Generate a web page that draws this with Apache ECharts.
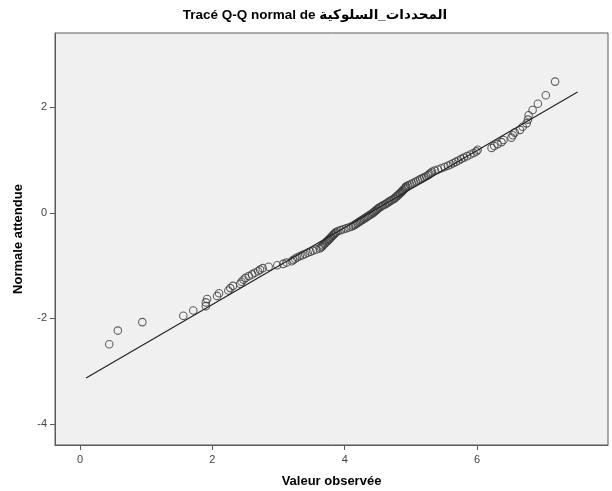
<!DOCTYPE html>
<html>
<head>
<meta charset="utf-8">
<script src="https://cdn.jsdelivr.net/npm/echarts@6/dist/echarts.min.js"></script>
<style>
html,body{margin:0;padding:0;background:#fff;}
#chart{width:612px;height:491px;}
</style>
</head>
<body>
<div id="chart"></div>
<script>
var observed = [
0.44,0.57,0.94,1.56,1.71,1.90,1.90,1.92,2.07,2.10,
2.24,2.27,2.31,2.42,2.44,2.47,2.50,2.55,2.60,2.64,
2.69,2.72,2.76,2.85,2.98,3.07,3.12,3.20,
3.22,3.25,3.28,3.32,3.36,3.40,3.44,3.48,3.52,3.57,3.62,
3.64,3.66,3.67,3.69,3.70,3.72,3.73,3.75,3.76,3.78,3.79,3.80,3.82,3.83,3.84,3.86,3.87,
3.90,3.94,3.98,4.02,4.06,4.10,
4.13,4.15,4.17,4.19,4.21,4.23,4.25,4.27,4.29,4.31,4.33,4.35,4.37,4.39,4.41,4.43,4.44,4.46,4.47,4.49,4.50,4.52,
4.54,4.56,4.58,4.61,4.63,4.65,4.67,4.69,4.71,
4.74,4.75,4.77,4.78,4.80,4.81,4.83,4.84,4.86,4.87,4.88,4.90,4.91,4.92,4.93,
4.96,4.99,5.02,5.05,5.08,5.11,5.14,5.17,5.20,5.23,5.26,5.28,5.30,5.32,
5.36,5.41,5.46,5.51,5.56,5.60,5.64,5.68,5.72,
5.76,5.80,5.85,5.90,5.95,5.99,
6.01,6.22,6.26,6.31,6.37,6.40,6.52,6.54,6.57,6.65,6.69,6.75,6.77,6.78,6.84,6.92,7.04,7.18
];
// Expected normal values (y), by rank
var expected = [
-2.489,-2.231,-2.070,-1.949,-1.851,-1.768,-1.697,-1.633,-1.574,-1.522,
-1.472,-1.426,-1.383,-1.342,-1.304,-1.267,-1.232,-1.198,-1.166,-1.135,
-1.106,-1.076,-1.048,-1.020,-0.993,-0.967,-0.942,-0.917,-0.893,-0.869,
-0.846,-0.823,-0.801,-0.779,-0.757,-0.736,-0.715,-0.695,-0.674,-0.654,
-0.635,-0.615,-0.596,-0.577,-0.558,-0.539,-0.521,-0.502,-0.484,-0.466,
-0.448,-0.431,-0.413,-0.396,-0.379,-0.361,-0.344,-0.327,-0.310,-0.293,
-0.277,-0.260,-0.244,-0.227,-0.210,-0.194,-0.178,-0.161,-0.145,-0.129,
-0.113,-0.097,-0.080,-0.064,-0.048,-0.032,-0.016,
0,
0.016,0.032,0.048,0.064,0.080,0.097,0.113,
0.129,0.145,0.161,0.178,0.194,0.210,0.227,0.244,0.260,0.277,
0.293,0.310,0.327,0.344,0.361,0.379,0.396,0.413,0.431,0.448,
0.466,0.484,0.502,0.521,0.539,0.558,0.577,0.596,0.615,0.635,
0.654,0.674,0.695,0.715,0.736,0.757,0.779,0.801,0.823,0.846,
0.869,0.893,0.917,0.942,0.967,0.993,1.020,1.048,1.076,1.106,
1.135,1.166,1.198,1.232,1.267,1.304,1.342,1.383,1.426,1.472,
1.522,1.574,1.633,1.697,1.768,1.851,1.949,2.070,2.231,2.489
];
// Reference line endpoints
var lineX = [0.09, 7.52];
var lineY = [-3.13, 2.29];
var xTicks = [0, 2, 4, 6];
var yTicks = [-4, -2, 0, 2];
var titleText = "Tracé Q-Q normal de المحددات_السلوكية";
var xTitle = "Valeur observée";
var yTitle = "Normale attendue";

var pts = observed.map(function(v, i){ return [v, expected[i]]; });
var linePts = lineX.map(function(v, i){ return [v, lineY[i]]; });

var chart = echarts.init(document.getElementById('chart'), null, {renderer:'canvas'});
var font = "'Liberation Sans', Arial, 'DejaVu Sans', sans-serif";
chart.setOption({
  backgroundColor: '#ffffff',
  animation: false,
  graphic: [{
    type: 'text', x: 315, y: 15,
    style: { text: titleText, font: "bold 13.5px " + font, fill: '#000', align: 'center', verticalAlign: 'middle' }
  }],
  grid: {
    left: 55, right: 4, top: 33, bottom: 46,
    outerBoundsMode: 'none', containLabel: false,
    show: true, backgroundColor: '#f0f0f0', borderColor: '#5a5a5a', borderWidth: 1
  },
  xAxis: {
    type: 'value', min: -0.38, max: 7.98,
    name: xTitle, nameLocation: 'middle', nameGap: 30,
    nameTextStyle: { fontFamily: font, fontWeight: 'bold', fontSize: 13, color: '#000' },
    axisLine: { show: true, onZero: false, lineStyle: { color: '#5a5a5a' } },
    axisTick: { show: true, length: 5, customValues: xTicks, lineStyle: { color: '#5a5a5a' } },
    axisLabel: { customValues: xTicks, margin: 9, fontFamily: font, fontSize: 11, color: '#444' },
    splitLine: { show: false }
  },
  yAxis: {
    type: 'value', min: -4.4, max: 3.41,
    name: yTitle, nameLocation: 'middle', nameGap: 30, nameRotate: 90,
    nameTextStyle: { fontFamily: font, fontWeight: 'bold', fontSize: 13, color: '#000' },
    axisLine: { show: true, onZero: false, lineStyle: { color: '#5a5a5a' } },
    axisTick: { show: true, length: 5, customValues: yTicks, lineStyle: { color: '#5a5a5a' } },
    axisLabel: { customValues: yTicks, margin: 8, fontFamily: font, fontSize: 11, color: '#444' },
    splitLine: { show: false }
  },
  series: [
    {
      type: 'line', data: linePts, showSymbol: false, silent: true,
      lineStyle: { color: '#222', width: 1.2 }, z: 3
    },
    {
      type: 'scatter', data: pts, symbol: 'circle', symbolSize: 7.5,
      itemStyle: { color: 'rgba(0,0,0,0)', borderColor: '#3c3c3c', borderWidth: 1.1 }, z: 2
    }
  ]
});
</script>
</body>
</html>
